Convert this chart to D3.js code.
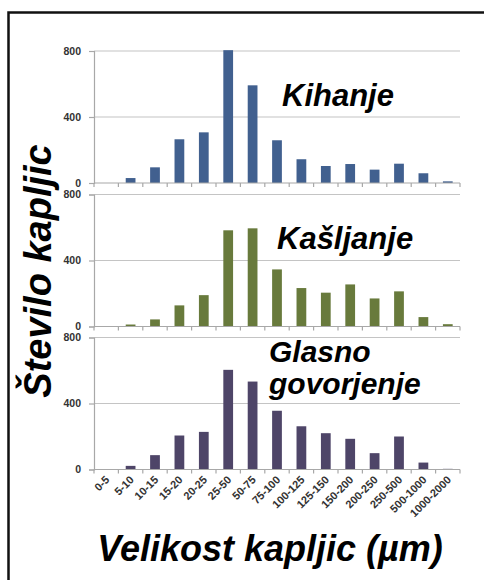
<!DOCTYPE html>
<html>
<head>
<meta charset="utf-8">
<script src="https://cdn.jsdelivr.net/npm/d3@7/dist/d3.min.js"></script>
<style>
  html, body { margin: 0; padding: 0; background: #fff; }
  svg { display: block; }
  text { font-family: "Liberation Sans", Arial, sans-serif; }
</style>
</head>
<body>
<script>
const categories = ["0-5","5-10","10-15","15-20","20-25","25-50","50-75","75-100","100-125","125-150","150-200","200-250","250-500","500-1000","1000-2000"];
const kihanje = [0, 30, 95, 265, 307, 805, 592, 259, 144, 103, 115, 81, 117, 59, 10];
const kasljanje = [0, 12, 43, 128, 190, 583, 595, 346, 233, 205, 255, 170, 213, 57, 14];
const glasno = [0, 22, 87, 206, 228, 604, 533, 356, 262, 220, 186, 99, 200, 42, 4];
const yTicks = [0, 400, 800];
const panelTitles = [["Kihanje"], ["Kašljanje"], ["Glasno", "govorjenje"]];
const seriesList = [kihanje, kasljanje, glasno];
const colors = ["#41608f", "#687a3c", "#4e4568"];

const W = 484, H = 580;
const svg = d3.select("body").append("svg").attr("width", W).attr("height", H);

// frame (top + left edges)
svg.append("path").attr("d", `M8.5,${H} L8.5,12.5 L${W},12.5`)
  .attr("fill", "none").attr("stroke", "#111").attr("stroke-width", 2.5);

const x = d3.scaleBand().domain(categories).range([94, 460]).paddingInner(0.6).paddingOuter(0.3);
const step = x.step();

const panelTop = [51, 194.5, 337.5];
const panelH = 132;
const titlePos = [
  {x: 282, y: [106], size: 31},
  {x: 277, y: [249], size: 31},
  {x: 269, y: [362, 394], size: 30}
];

seriesList.forEach((data, i) => {
  const top = panelTop[i];
  const y = d3.scaleLinear().domain([0, 800]).range([top + panelH, top]);
  const g = svg.append("g");

  // gridlines
  g.selectAll("line.grid").data(yTicks.filter(t => t > 0)).enter().append("line")
    .attr("x1", 94).attr("x2", 460)
    .attr("y1", d => y(d)).attr("y2", d => y(d))
    .attr("stroke", "#c4c4c4").attr("stroke-width", 1.2);

  // y axis
  const yAxis = d3.axisLeft(y).tickValues(yTicks).tickSize(5).tickPadding(8).tickFormat(d3.format("d"));
  const ya = g.append("g").attr("transform", "translate(94,0)").call(yAxis);
  ya.select(".domain").attr("stroke", "#a8a8a8").attr("stroke-width", 1.2);
  ya.selectAll(".tick line").attr("stroke", "#a8a8a8").attr("stroke-width", 1.2);
  ya.selectAll(".tick text").attr("font-size", 10.5).attr("font-weight", "bold")
    .attr("fill", "#333").attr("font-family", "Liberation Sans, Arial, sans-serif");

  // bars
  g.selectAll("rect").data(data).enter().append("rect")
    .attr("x", (d, j) => x(categories[j]))
    .attr("width", x.bandwidth())
    .attr("y", d => y(d))
    .attr("height", d => y(0) - y(d))
    .attr("fill", colors[i]);

  // x axis baseline with boundary ticks
  const base = y(0);
  g.append("line").attr("x1", 94).attr("x2", 460).attr("y1", base).attr("y2", base)
    .attr("stroke", "#a8a8a8").attr("stroke-width", 1.2);
  const bounds = categories.map(c => x(c) - step * 0.3).concat([x(categories[categories.length - 1]) + x.bandwidth() + step * 0.3]);
  g.selectAll("line.xt").data(bounds).enter().append("line")
    .attr("x1", d => d).attr("x2", d => d).attr("y1", base).attr("y2", base + 4)
    .attr("stroke", "#a8a8a8").attr("stroke-width", 1.2);

  // title
  const tp = titlePos[i];
  panelTitles[i].forEach((s, k) => {
    svg.append("text").attr("x", tp.x).attr("y", tp.y[k]).text(s)
      .attr("font-size", tp.size).attr("font-weight", "bold").attr("font-style", "italic")
      .attr("fill", "#000");
  });

  // category labels on the last panel
  if (i === 2) {
    g.selectAll("text.cat").data(categories).enter().append("text")
      .attr("transform", d => `translate(${x(d) + x.bandwidth() / 2 + 4},${base + 11}) rotate(-45)`)
      .attr("text-anchor", "end")
      .attr("font-size", 11).attr("font-weight", "bold").attr("fill", "#333")
      .text(d => d);
  }
});

// y axis title
svg.append("text")
  .attr("transform", "translate(51,271) rotate(-90)")
  .attr("text-anchor", "middle")
  .attr("font-size", 38).attr("font-weight", "bold").attr("font-style", "italic")
  .text("Število kapljic");

// x axis title
svg.append("text")
  .attr("x", 270).attr("y", 561)
  .attr("text-anchor", "middle")
  .attr("font-size", 36).attr("font-weight", "bold").attr("font-style", "italic")
  .text("Velikost kapljic (µm)");
</script>
</body>
</html>
